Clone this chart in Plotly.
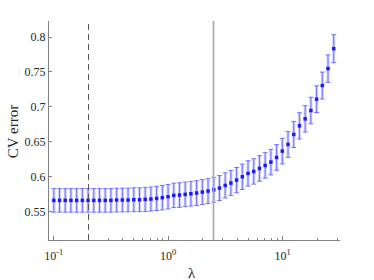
import numpy as np
import plotly.graph_objects as go

# --- data ---
n_points = 50
lam_min, lam_max = 0.1, 28.0
lambdas = list(np.logspace(np.log10(lam_min), np.log10(lam_max), n_points))

# pixel readings converted to CV error values
cv_mean = [0.5662, 0.5662, 0.5662, 0.5662, 0.5662, 0.5662, 0.5662, 0.5662, 0.5662, 0.5662,
           0.5662, 0.5667, 0.5667, 0.5667, 0.5671, 0.5671, 0.5676, 0.5681, 0.5690, 0.5700,
           0.5714, 0.5733, 0.5738, 0.5748, 0.5757, 0.5767, 0.5781, 0.5795, 0.5814, 0.5838,
           0.5876, 0.5910, 0.5952, 0.6000, 0.6048, 0.6076, 0.6119, 0.6162, 0.6210, 0.6276,
           0.6367, 0.6462, 0.6605, 0.6729, 0.6829, 0.6948, 0.7110, 0.7305, 0.7548, 0.7833]
cv_se = [0.0169, 0.0169, 0.0169, 0.0169, 0.0169, 0.0169, 0.0169, 0.0169, 0.0169, 0.0169,
         0.0169, 0.0170, 0.0170, 0.0170, 0.0171, 0.0171, 0.0172, 0.0173, 0.0173, 0.0174,
         0.0175, 0.0175, 0.0176, 0.0176, 0.0177, 0.0177, 0.0178, 0.0178, 0.0179, 0.0179,
         0.0180, 0.0180, 0.0181, 0.0181, 0.0182, 0.0182, 0.0183, 0.0183, 0.0183, 0.0184,
         0.0184, 0.0185, 0.0187, 0.0188, 0.0189, 0.0190, 0.0191, 0.0193, 0.0197, 0.0200]

lambda_min_mse = 0.201   # dashed line
lambda_1se = 2.49        # solid line

x_tickvals = [0.1, 1, 10]
x_ticktext = ["10<sup>-1</sup>", "10<sup>0</sup>", "10<sup>1</sup>"]
x_minor = [m * 10.0 ** e for e in (-2, -1, 0, 1) for m in range(2, 10)]
y_tickvals = [0.55, 0.6, 0.65, 0.7, 0.75, 0.8]
y_ticktext = ["0.55", "0.6", "0.65", "0.7", "0.75", "0.8"]
x_title = "λ"
y_title = "CV error"

x_range_log = [-1.042, 1.502]
y_range = [0.5095, 0.8229]

fig = go.Figure()

# light wide error bar
fig.add_trace(go.Scatter(
    x=lambdas, y=cv_mean, mode="markers",
    marker=dict(size=1, color="rgba(0,0,0,0)"),
    error_y=dict(type="data", array=cv_se, visible=True,
                 color="rgba(130,130,255,0.35)", thickness=3, width=0),
    hoverinfo="skip", showlegend=False))

# thin error bar with caps + markers
fig.add_trace(go.Scatter(
    x=lambdas, y=cv_mean, mode="markers",
    marker=dict(size=3.5, color="#1a1aff", symbol="square"),
    error_y=dict(type="data", array=cv_se, visible=True,
                 color="rgba(70,70,255,0.7)", thickness=1, width=2.5),
    showlegend=False))

fig.add_shape(type="line", xref="x", yref="paper", x0=lambda_1se, x1=lambda_1se,
              y0=0, y1=1, line=dict(color="#a8a8a8", width=1.6))
fig.add_shape(type="line", xref="x", yref="paper", x0=lambda_min_mse, x1=lambda_min_mse,
              y0=0, y1=1, line=dict(color="#555555", width=1, dash="6px,4px"))

font = "Liberation Serif"
fig.add_annotation(text=x_title, xref="paper", yref="paper", x=0.49, y=-0.105,
                   xanchor="center", yanchor="top", showarrow=False,
                   font=dict(size=15, family=font, color="#262626"))
fig.add_annotation(text=y_title, xref="paper", yref="paper", x=-0.125, y=0.495,
                   xanchor="center", yanchor="middle", textangle=-90, showarrow=False,
                   font=dict(size=15, family=font, color="#262626"))

fig.update_layout(
    width=374, height=280,
    margin=dict(l=49, r=34, t=21, b=40),
    plot_bgcolor="white", paper_bgcolor="white",
    font=dict(family=font, color="#262626", size=12),
    xaxis=dict(type="log", range=x_range_log, tickvals=x_tickvals, ticktext=x_ticktext,
               ticks="inside", ticklen=4, tickcolor="#808080", showline=True,
               linecolor="#808080", linewidth=1, showgrid=False, zeroline=False,
               automargin=False, ticklabelstandoff=5,
               tickfont=dict(size=12, family=font, color="#262626"),
               minor=dict(tickvals=x_minor, ticks="inside", ticklen=2, tickcolor="#808080")),
    yaxis=dict(range=y_range, tickvals=y_tickvals, ticktext=y_ticktext,
               ticks="inside", ticklen=3, tickcolor="#808080", showline=True,
               linecolor="#808080", linewidth=1, showgrid=False, zeroline=False,
               automargin=False,
               tickfont=dict(size=12, family=font, color="#262626")),
)

fig.write_html("out.html", config={"displayModeBar": False},
               post_script="document.body.style.margin='0';")
